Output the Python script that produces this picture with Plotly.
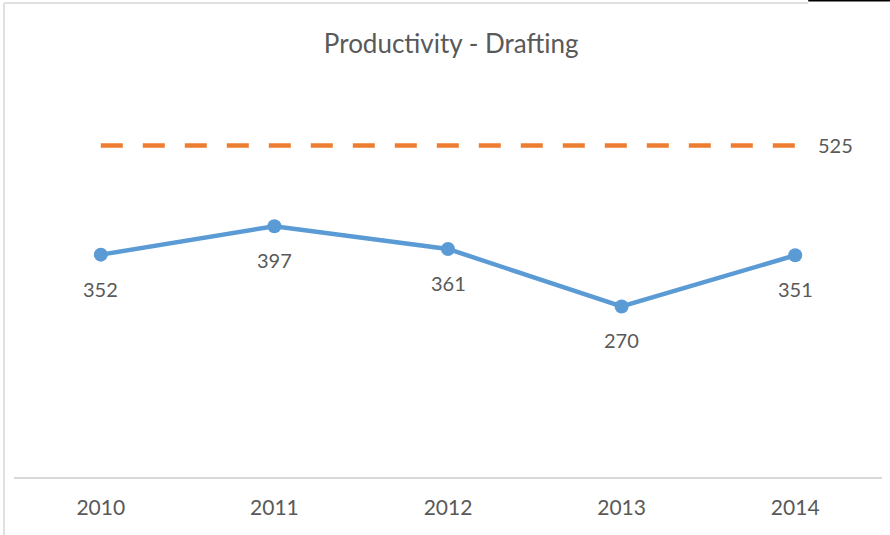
import plotly.graph_objects as go

years = ["2010", "2011", "2012", "2013", "2014"]
productivity = [352, 397, 361, 270, 351]
target = [525, 525, 525, 525, 525]

grey = "#595959"
font_family = "Lato, 'Open Sans', sans-serif"

fig = go.Figure()

fig.add_trace(go.Scatter(
    x=years, y=target, mode="lines",
    line=dict(color="#ED7D31", width=4.5, dash="22px,20px"),
    hoverinfo="skip", showlegend=False
))

fig.add_trace(go.Scatter(
    x=years, y=productivity, mode="lines+markers",
    line=dict(color="#5B9BD5", width=4.5),
    marker=dict(color="#5B9BD5", size=14),
    showlegend=False
))

# value labels under each point (category index as x)
for i, v in enumerate(productivity):
    fig.add_annotation(x=i, y=v, text=str(v), showarrow=False,
                       yshift=-34, font=dict(size=20, color=grey, family=font_family))

# target label to the right of the last point
fig.add_annotation(x=len(years) - 1, y=target[-1], text=str(target[-1]), showarrow=False,
                   xshift=40, font=dict(size=20, color=grey, family=font_family))

# faint chart frame like the original screenshot
fig.add_shape(type="line", xref="paper", yref="paper", x0=-0.0115, x1=0.915,
              y0=1.2507, y1=1.2507, line=dict(color="#E0E0E0", width=2))
fig.add_shape(type="line", xref="paper", yref="paper", x0=-0.0115, x1=-0.0115,
              y0=1.2507, y1=-0.16, line=dict(color="#E0E0E0", width=2))
fig.add_shape(type="line", xref="paper", yref="paper", x0=0.915, x1=1.02,
              y0=1.257, y1=1.257, line=dict(color="black", width=2))

fig.update_layout(
    width=890, height=535,
    margin=dict(l=14, r=8, t=98, b=58),
    paper_bgcolor="white", plot_bgcolor="white",
    title=dict(text="Productivity - Drafting", x=0.507, xanchor="center",
               y=0.918, yanchor="middle",
               font=dict(size=26, color=grey, family=font_family)),
    font=dict(family=font_family, color=grey),
    xaxis=dict(type="category", range=[-0.5, 4.5], showgrid=False,
               showline=True, linecolor="#D9D9D9", linewidth=2,
               ticks="outside", ticklen=11, tickcolor="rgba(0,0,0,0)",
               tickfont=dict(size=21, color=grey)),
    yaxis=dict(range=[0, 600], visible=False, showgrid=False, zeroline=False),
)

fig.write_html("out.html", config={"displayModeBar": False},
               post_script="document.body.style.margin='0';")
